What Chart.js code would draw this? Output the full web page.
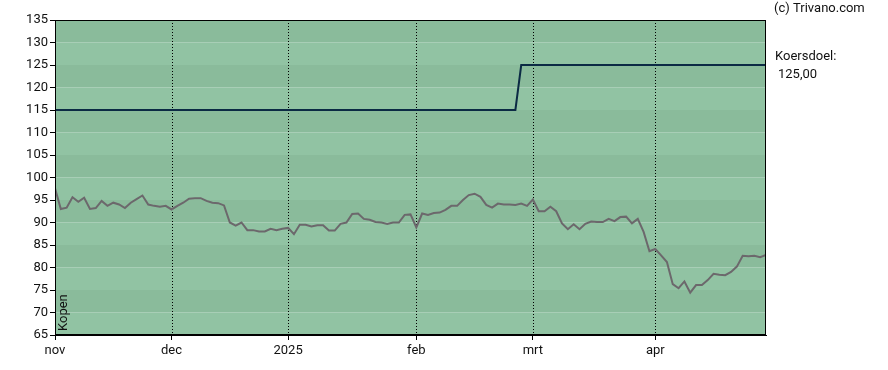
<!DOCTYPE html>
<html>
<head>
<meta charset="utf-8">
<script src="https://cdn.jsdelivr.net/npm/chart.js@4/dist/chart.umd.min.js"></script>
<style>
  html, body { margin: 0; padding: 0; background: #ffffff; }
  #wrap { width: 888px; height: 370px; }
</style>
</head>
<body>
<div id="wrap"><canvas id="c" width="888" height="370"></canvas></div>
<script>
// ---- data (trading-day index based) ----
const priceValues = [
  97.6, 93.0, 93.3, 95.6, 94.6, 95.5, 93.0, 93.2, 94.8, 93.7,
  94.4, 94.0, 93.2, 94.4, 95.2, 96.0, 94.0, 93.7, 93.5, 93.7,
  92.9, 93.7, 94.4, 95.3, 95.4, 95.4, 94.8, 94.4, 94.3, 93.8,
  90.0, 89.3, 90.0, 88.3, 88.3, 88.0, 88.0, 88.6, 88.3, 88.6,
  88.8, 87.4, 89.5, 89.5, 89.1, 89.4, 89.4, 88.2, 88.2, 89.7,
  90.0, 91.9, 92.0, 90.8, 90.6, 90.1, 90.0, 89.7, 90.0, 90.0,
  91.7, 91.8, 88.9, 92.0, 91.7, 92.1, 92.2, 92.8, 93.7, 93.7,
  95.0, 96.1, 96.4, 95.7, 93.9, 93.3, 94.2, 94.0, 94.0, 93.9,
  94.2, 93.7, 95.1, 92.5, 92.5, 93.5, 92.5, 89.8, 88.5, 89.6,
  88.5, 89.7, 90.2, 90.1, 90.1, 90.8, 90.3, 91.2, 91.3, 89.8,
  90.8, 87.9, 83.6, 84.1, 82.7, 81.2, 76.3, 75.4, 76.9, 74.4,
  76.1, 76.1, 77.2, 78.6, 78.4, 78.3, 79.0, 80.2, 82.6, 82.5,
  82.6, 82.3, 82.8
];
const targetValues = priceValues.map((v, i) => i < 80 ? 115 : 125);
const monthTickIndex = [0, 20, 40, 62, 82, 103];
const monthTickLabels = ['nov', 'dec', '2025', 'feb', 'mrt', 'apr'];
const yTicks = [65, 70, 75, 80, 85, 90, 95, 100, 105, 110, 115, 120, 125, 130, 135];
const targetLabel = 'Koersdoel:';
const adviceLabel = 'Kopen';
const copyrightLabel = '(c) Trivano.com';

const FONT = 'Roboto, "Liberation Sans", Arial, sans-serif';
const BAND_LIGHT = 'rgb(145,195,163)';
const BAND_DARK = 'rgb(138,187,155)';

const pricePoints = priceValues.map((v, i) => ({ x: i, y: v }));
const targetPoints = targetValues.map((v, i) => ({ x: i, y: v }));

const decorPlugin = {
  id: 'decor',
  beforeDatasetsDraw(chart) {
    const { ctx, chartArea: a, scales } = chart;
    const ys = scales.y;
    ctx.save();
    for (let k = 0; k < yTicks.length - 1; k++) {
      const lo = yTicks[k], hi = yTicks[k + 1];
      const top = ys.getPixelForValue(hi), bot = ys.getPixelForValue(lo);
      ctx.fillStyle = (k % 2 === 0) ? BAND_LIGHT : BAND_DARK;
      ctx.fillRect(a.left, top, a.right - a.left, bot - top);
    }
    // dotted month lines
    ctx.strokeStyle = '#000';
    ctx.lineWidth = 1;
    ctx.setLineDash([1, 2]);
    monthTickIndex.forEach((idx, n) => {
      if (n === 0) return;
      const x = Math.round(scales.x.getPixelForValue(idx)) + 0.5;
      ctx.beginPath();
      ctx.moveTo(x, a.top);
      ctx.lineTo(x, a.bottom);
      ctx.stroke();
    });
    ctx.setLineDash([]);
    ctx.restore();
  },
  afterDatasetsDraw(chart) {
    const { ctx, chartArea: a } = chart;
    ctx.save();
    ctx.strokeStyle = '#000';
    ctx.lineWidth = 1;
    ctx.strokeRect(Math.round(a.left) + 0.5, Math.round(a.top) + 0.5,
      Math.round(a.right - a.left) - 1, Math.round(a.bottom - a.top) - 1);
    // "Kopen" rotated text
    ctx.fillStyle = '#111';
    ctx.font = '13px ' + FONT;
    ctx.translate(a.left + 9, a.bottom - 4);
    ctx.rotate(-Math.PI / 2);
    ctx.textAlign = 'left';
    ctx.textBaseline = 'middle';
    ctx.fillText(adviceLabel, 0, 0);
    ctx.restore();

    ctx.save();
    ctx.fillStyle = '#111';
    ctx.font = '13px ' + FONT;
    ctx.textAlign = 'left';
    ctx.textBaseline = 'middle';
    ctx.fillText(copyrightLabel, a.right + 8, 9);
    ctx.fillText(targetLabel, a.right + 9, 57);
    const last = targetValues[targetValues.length - 1];
    ctx.fillText(last.toFixed(2).replace('.', ','), a.right + 12, 75);
    ctx.restore();
  }
};

new Chart(document.getElementById('c'), {
  type: 'line',
  data: {
    datasets: [
      {
        data: targetPoints,
        borderColor: '#0b2a44',
        borderWidth: 2,
        pointRadius: 0,
        tension: 0,
        order: 1
      },
      {
        data: pricePoints,
        borderColor: 'rgb(108,104,108)',
        borderWidth: 2,
        pointRadius: 0,
        tension: 0,
        order: 0
      }
    ]
  },
  options: {
    responsive: false,
    animation: false,
    events: [],
    layout: { padding: { left: 0, right: 122, top: 20, bottom: 0 } },
    plugins: { legend: { display: false }, tooltip: { enabled: false } },
    scales: {
      x: {
        type: 'linear',
        min: 0,
        max: priceValues.length - 1,
        afterBuildTicks(scale) {
          scale.ticks = monthTickIndex.map(v => ({ value: v }));
        },
        afterFit(scale) { scale.height = 35; },
        ticks: {
          autoSkip: false,
          maxRotation: 0,
          padding: 3,
          color: '#111',
          font: { family: FONT, size: 13 },
          callback(value) {
            const i = monthTickIndex.indexOf(value);
            return i >= 0 ? monthTickLabels[i] : '';
          }
        },
        grid: { drawOnChartArea: false, drawTicks: true, tickLength: 5, color: '#000', tickColor: '#000' },
        border: { display: true, color: '#000', width: 1 }
      },
      y: {
        min: 65,
        max: 135,
        afterBuildTicks(scale) {
          scale.ticks = yTicks.map(v => ({ value: v }));
        },
        afterFit(scale) { scale.width = 55; },
        ticks: {
          padding: 2,
          color: '#111',
          font: { family: FONT, size: 13 }
        },
        grid: { drawOnChartArea: false, drawTicks: true, tickLength: 5, color: '#000', tickColor: '#000' },
        border: { display: true, color: '#000', width: 1 }
      }
    }
  },
  plugins: [decorPlugin]
});
</script>
</body>
</html>
